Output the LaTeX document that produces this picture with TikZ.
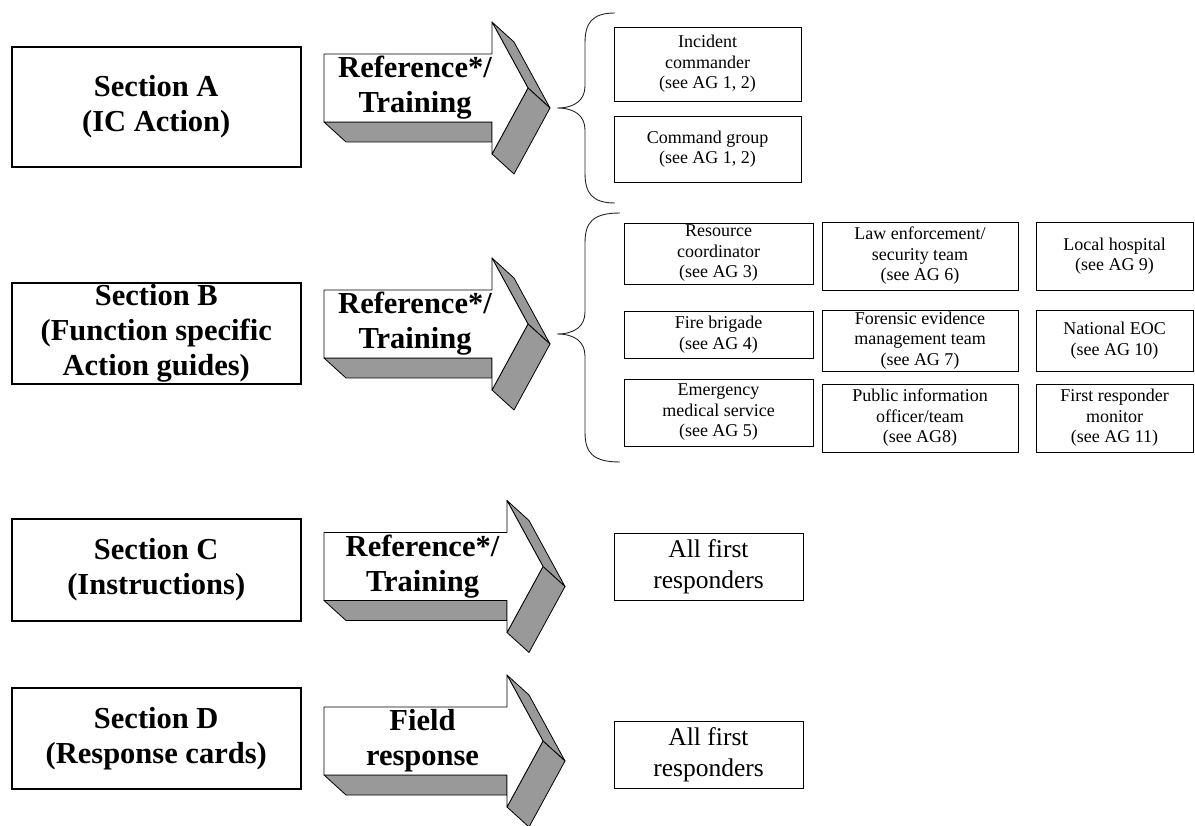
\documentclass[tikz,border=0pt]{standalone}
\usepackage{fontspec}
\setmainfont{Liberation Serif}
\definecolor{arrowgrey}{HTML}{999999}
\tikzset{
  secbox/.style={draw, line width=1.6pt, minimum width=289pt, inner sep=0pt, align=center,
    font=\fontsize{30.5}{35}\selectfont\bfseries},
  subbox/.style={draw, line width=0.9pt, inner sep=1pt, align=center,
    font=\fontsize{18}{20.5}\selectfont},
  allbox/.style={draw, line width=0.9pt, minimum width=189pt, minimum height=67pt, align=center,
    font=\fontsize{25.5}{31}\selectfont},
  arrowtext/.style={align=center, inner sep=0pt, font=\fontsize{30.5}{35}\selectfont\bfseries},
  arrowside/.style={fill=arrowgrey, draw=black, line width=0.8pt, line join=round},
  arrowfront/.style={fill=white, draw=black, line width=0.8pt, line join=round},
  bracestyle/.style={draw=black!85, line width=0.9pt}
}
\begin{document}
\begin{tikzpicture}[x=1pt, y=-1pt]

  \useasboundingbox (0,0) rectangle (1195,826);

  % #1 shaft left, #2 centre y, #3 head x, #4 name, #5 text
  \newcommand\blockarrow[5]{
    \filldraw[arrowside] ({#1},{#2+34}) -- ({#3},{#2+34}) -- ({#3},{#2+54}) -- ({#1+22},{#2+54}) -- cycle;
    \filldraw[arrowside] ({#3},{#2-66}) -- ({#3+36},{#2}) -- ({#3+58},{#2+20}) -- ({#3+22},{#2-46}) -- cycle;
    \filldraw[arrowside] ({#3+36},{#2}) -- ({#3},{#2+66}) -- ({#3+22},{#2+86}) -- ({#3+58},{#2+20}) -- cycle;
    \filldraw[arrowfront] ({#1},{#2-34}) -- ({#3},{#2-34}) -- ({#3},{#2-66}) -- ({#3+36},{#2})
      -- ({#3},{#2+66}) -- ({#3},{#2+34}) -- ({#1},{#2+34}) -- cycle;
    \node[arrowtext] (#4) at ({(#1+#3)/2+7},{#2}) {#5};
  }
  % #1 end x, #2 top, #3 cusp, #4 bottom
  \newcommand\sidebrace[4]{
    \draw[bracestyle] ({#1},{#2}) .. controls (592,{#2}) and (585,{#2+10}) .. (585,{#2+30})
      -- (585,{#3-22}) .. controls (585,{#3-8}) and (575,{#3}) .. (557,{#3})
      .. controls (575,{#3}) and (585,{#3+8}) .. (585,{#3+22})
      -- (585,{#4-30}) .. controls (585,{#4-10}) and (592,{#4}) .. ({#1},{#4});
  }

  % section A
  \node[secbox, minimum height=120pt] (secA) at (156.25,107) {Section A\\(IC Action)};
  \blockarrow{324}{88}{492}{arrA}{Reference*/\\Training}
  \sidebrace{615}{13}{108}{203}
  \node[subbox, minimum width=187pt, minimum height=74pt] (ic) at (707.5,64) {Incident\\commander\\(see AG 1, 2)};
  \node[subbox, minimum width=187pt, minimum height=66pt] (cg) at (707.5,149) {Command group\\(see AG 1, 2)};

  % section B
  \node[secbox, minimum height=101pt] (secB) at (156.25,333.5) {Section B\\(Function specific\\Action guides)};
  \blockarrow{324}{324}{492}{arrB}{Reference*/\\Training}
  \sidebrace{620}{213}{334}{462}
  \node[subbox, minimum width=189pt, minimum height=61pt] (rc) at (718.5,253.5) {Resource\\coordinator\\(see AG 3)};
  \node[subbox, minimum width=196pt, minimum height=68pt] (le) at (920,256) {Law enforcement/\\security team\\(see AG 6)};
  \node[subbox, minimum width=157pt, minimum height=68pt] (lh) at (1114.5,256) {Local hospital\\(see AG 9)};
  \node[subbox, minimum width=189pt, minimum height=47pt] (fb) at (718.5,334.5) {Fire brigade\\(see AG 4)};
  \node[subbox, minimum width=196pt, minimum height=61pt] (fe) at (920,340.5) {Forensic evidence\\management team\\(see AG 7)};
  \node[subbox, minimum width=157pt, minimum height=61pt] (ne) at (1114.5,340.5) {National EOC\\(see AG 10)};
  \node[subbox, minimum width=189pt, minimum height=67pt] (em) at (718.5,412.5) {Emergency\\medical service\\(see AG 5)};
  \node[subbox, minimum width=196pt, minimum height=68pt] (pi) at (920,418) {Public information\\officer/team\\(see AG8)};
  \node[subbox, minimum width=157pt, minimum height=68pt] (fr) at (1114.5,418) {First responder\\monitor\\(see AG 11)};

  % section C
  \node[secbox, minimum height=102pt] (secC) at (156.25,570) {Section C\\(Instructions)};
  \blockarrow{324}{566.5}{507}{arrC}{Reference*/\\Training}
  \node[allbox] (allC) at (708.5,566.5) {All first\\responders};

  % section D
  \node[secbox, minimum height=101pt] (secD) at (156.25,738.5) {Section D\\(Response cards)};
  \blockarrow{324}{741}{507}{arrD}{Field\\response}
  \node[allbox] (allD) at (708.5,754.5) {All first\\responders};

\end{tikzpicture}
\end{document}
